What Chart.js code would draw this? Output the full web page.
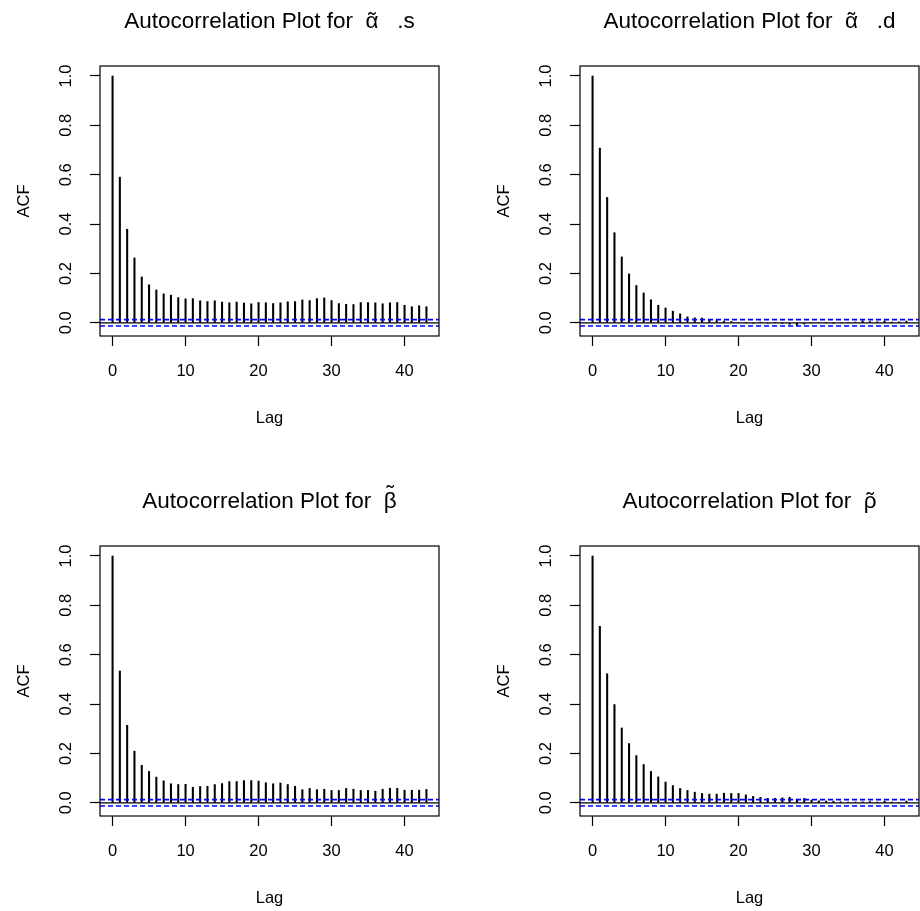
<!DOCTYPE html>
<html>
<head>
<meta charset="utf-8">
<title>ACF plots</title>
<script src="https://cdn.jsdelivr.net/npm/chart.js@4.4.0/dist/chart.umd.min.js"></script>
<style>
    html, body { margin: 0; padding: 0; background: #fff; }
    body { width: 920px; height: 911px; overflow: hidden; position: relative; }
    canvas { position: absolute; }
</style>
</head>
<body>
<canvas id="acfAlphaS" width="480" height="480" style="left:0;top:0"></canvas>
<canvas id="acfAlphaD" width="480" height="480" style="left:480px;top:0"></canvas>
<canvas id="acfBeta" width="480" height="480" style="left:0;top:480px"></canvas>
<canvas id="acfRho" width="480" height="480" style="left:480px;top:480px"></canvas>
<script>
'use strict';

// ── Lags and sample autocorrelations per parameter
const lags = [0, 1, 2, 3, 4, 5, 6, 7, 8, 9, 10, 11, 12, 13, 14, 15, 16, 17, 18, 19, 20, 21,
    22, 23, 24, 25, 26, 27, 28, 29, 30, 31, 32, 33, 34, 35, 36, 37, 38, 39, 40, 41, 42, 43];

const acfAlphaS = [1.000, 0.590, 0.379, 0.263, 0.186, 0.154, 0.133, 0.117, 0.112, 0.102,
    0.097, 0.098, 0.089, 0.086, 0.089, 0.084, 0.081, 0.084, 0.080, 0.077,
    0.082, 0.081, 0.078, 0.081, 0.085, 0.086, 0.093, 0.090, 0.098, 0.101,
    0.090, 0.078, 0.075, 0.074, 0.082, 0.082, 0.081, 0.077, 0.081, 0.082,
    0.071, 0.065, 0.069, 0.065];

const acfAlphaD = [1.000, 0.708, 0.508, 0.365, 0.267, 0.198, 0.151, 0.121, 0.093, 0.071,
    0.060, 0.047, 0.036, 0.024, 0.020, 0.019, 0.013, 0.009, 0.007, 0.005,
    0.002, 0.000, -0.002, 0.003, -0.002, 0.001, -0.003, -0.006, -0.011, -0.005,
    0.000, 0.002, 0.001, -0.002, 0.000, 0.002, 0.003, 0.008, 0.005, 0.004,
    0.008, 0.003, 0.004, 0.007];

const acfBeta = [1.000, 0.534, 0.314, 0.209, 0.152, 0.127, 0.104, 0.089, 0.077, 0.074,
    0.075, 0.063, 0.066, 0.067, 0.074, 0.078, 0.086, 0.086, 0.090, 0.090,
    0.088, 0.081, 0.077, 0.080, 0.074, 0.067, 0.053, 0.058, 0.053, 0.055,
    0.050, 0.050, 0.058, 0.055, 0.050, 0.050, 0.047, 0.055, 0.059, 0.059,
    0.051, 0.051, 0.051, 0.054];

const acfRho = [1.000, 0.715, 0.523, 0.398, 0.303, 0.240, 0.191, 0.155, 0.127, 0.105,
    0.084, 0.070, 0.058, 0.050, 0.043, 0.038, 0.035, 0.035, 0.039, 0.038,
    0.038, 0.032, 0.026, 0.022, 0.018, 0.018, 0.020, 0.022, 0.015, 0.018,
    0.011, 0.008, 0.007, 0.007, 0.004, 0.003, 0.003, 0.004, 0.005, 0.003,
    0.007, 0.003, 0.001, 0.007];

// white-noise band (+/- bound) drawn as dashed lines
const ciBound = 0.013;

const xTicks = [0, 10, 20, 30, 40];
const yTicks = [0, 0.2, 0.4, 0.6, 0.8, 1.0];
const xLimits = [-1.72, 44.72];
const yLimits = [-0.0535, 1.0405];

const FONT = 'Liberation Sans, Arial, Helvetica, sans-serif';
Chart.defaults.font.family = FONT;
Chart.defaults.color = '#000';

// frame around the plotting region
const boxPlugin = {
    id: 'plotBox',
    afterDatasetsDraw(chart) {
        const { ctx, chartArea: a } = chart;
        ctx.save();
        ctx.strokeStyle = '#000';
        ctx.lineWidth = 1.2;
        ctx.strokeRect(a.left, a.top, a.right - a.left, a.bottom - a.top);
        ctx.restore();
    }
};

// main title: plain text pieces, the greek symbol gets a tilde centred above it
const titlePlugin = {
    id: 'acfTitle',
    afterDraw(chart, args, opts) {
        const { ctx, chartArea: a } = chart;
        const parts = opts.parts || [];
        ctx.save();
        ctx.font = '22.5px ' + FONT;
        ctx.fillStyle = '#000';
        ctx.textBaseline = 'alphabetic';
        ctx.textAlign = 'left';
        const total = parts.reduce((w, p) => w + ctx.measureText(p.text).width, 0);
        let x = (a.left + a.right) / 2 - total / 2;
        const baseY = 28;
        parts.forEach(p => {
            const w = ctx.measureText(p.text).width;
            ctx.fillText(p.text, x, baseY);
            if (p.tilde) {
                ctx.textAlign = 'center';
                ctx.fillText('\u02DC', x + w / 2, baseY - (p.raise || 0));
                ctx.textAlign = 'left';
            }
            x += w;
        });
        ctx.restore();
    }
};

function hLine(y) {
    return [{ x: xLimits[0], y: y }, { x: xLimits[1], y: y }];
}

function renderAcf(canvasId, titleParts, values) {
    const el = document.getElementById(canvasId);
    if (!el) return;

    const tickGrid = {
        drawOnChartArea: false,
        drawTicks: true,
        tickLength: 10,
        tickColor: '#000',
        tickWidth: 1.2,
        offset: false
    };

    const ciLine = y => ({
        type: 'line',
        data: hLine(y),
        borderColor: '#0000ff',
        borderWidth: 1.6,
        borderDash: [5, 3],
        pointRadius: 0,
        order: 1
    });

    new Chart(el, {
        type: 'bar',
        data: {
            datasets: [
                {
                    type: 'bar',
                    data: lags.map((lag, i) => ({ x: lag, y: values[i] })),
                    backgroundColor: '#000',
                    borderWidth: 0,
                    barThickness: 1.4,
                    order: 3
                },
                {
                    type: 'line',
                    data: hLine(0),
                    borderColor: '#000',
                    borderWidth: 1.2,
                    pointRadius: 0,
                    order: 2
                },
                ciLine(ciBound),
                ciLine(-ciBound)
            ]
        },
        options: {
            responsive: false,
            animation: false,
            events: [],
            layout: { padding: { left: 0, top: 66, right: 41, bottom: 0 } },
            plugins: {
                legend: { display: false },
                tooltip: { enabled: false },
                title: { display: false },
                acfTitle: { parts: titleParts }
            },
            scales: {
                x: {
                    type: 'linear',
                    min: xLimits[0],
                    max: xLimits[1],
                    offset: false,
                    afterBuildTicks: s => { s.ticks = xTicks.map(v => ({ value: v })); },
                    afterFit: s => { s.height = 144; },
                    grid: tickGrid,
                    border: { display: false },
                    ticks: {
                        autoSkip: false,
                        maxRotation: 0,
                        padding: 16,
                        color: '#000',
                        font: { size: 16.5 },
                        callback: v => String(v)
                    },
                    title: {
                        display: true,
                        text: 'Lag',
                        color: '#000',
                        font: { size: 16.5 },
                        padding: { top: 0, bottom: 51.5 }
                    }
                },
                y: {
                    type: 'linear',
                    min: yLimits[0],
                    max: yLimits[1],
                    afterBuildTicks: s => { s.ticks = yTicks.map(v => ({ value: v })); },
                    afterFit: s => { s.width = 100; },
                    grid: tickGrid,
                    border: { display: false },
                    ticks: {
                        autoSkip: false,
                        minRotation: 90,
                        maxRotation: 90,
                        crossAlign: 'center',
                        padding: 12,
                        color: '#000',
                        font: { size: 16.5 },
                        callback: v => v.toFixed(1)
                    },
                    title: {
                        display: true,
                        text: 'ACF',
                        color: '#000',
                        font: { size: 16.5 },
                        padding: { top: 15, bottom: 0 }
                    }
                }
            }
        },
        plugins: [boxPlugin, titlePlugin]
    });
}

document.addEventListener('DOMContentLoaded', () => {
    const lead = 'Autocorrelation Plot for  ';
    const gap = '   ';
    renderAcf('acfAlphaS', [{ text: lead }, { text: '\u03B1', tilde: true }, { text: gap + '.s' }], acfAlphaS);
    renderAcf('acfAlphaD', [{ text: lead }, { text: '\u03B1', tilde: true }, { text: gap + '.d' }], acfAlphaD);
    renderAcf('acfBeta', [{ text: lead }, { text: '\u03B2', tilde: true, raise: 7 }], acfBeta);
    renderAcf('acfRho', [{ text: lead }, { text: '\u03C1', tilde: true }], acfRho);
});
</script>
</body>
</html>
